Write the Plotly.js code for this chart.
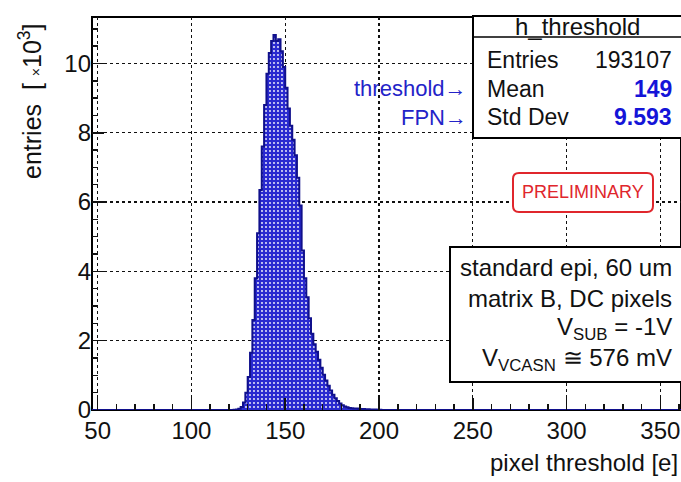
<!DOCTYPE html>
<html>
<head>
<meta charset="utf-8">
<script src="https://cdn.plot.ly/plotly-3.0.1.min.js"></script>
<style>html,body{margin:0;padding:0;background:#fff;overflow:hidden}</style>
</head>
<body>
<div id="chart" style="width:681px;height:482px"></div>
<script>
// ---- data ----
// histogram h_threshold, bin width 1.25 e, counts in units of 10^3 entries
const binLow = 120;
const binWidth = 1.25;
const counts = [
  0.0, 0.0, 0.005, 0.015, 0.035, 0.09, 0.22, 0.5, 0.95, 1.65,
  2.6, 3.8, 5.1, 6.35, 7.6, 8.8, 9.7, 10.3, 10.65, 10.82,
  10.65, 10.7, 10.35, 9.9, 9.3, 8.7, 8.2, 7.8, 7.35, 6.7,
  5.9, 4.6, 3.8, 3.25, 2.65, 2.2, 1.9, 1.68, 1.45, 1.22,
  1.02, 0.85, 0.7, 0.56, 0.44, 0.34, 0.26, 0.19, 0.14, 0.1,
  0.08, 0.06, 0.05, 0.045, 0.04, 0.035, 0.03, 0.028, 0.025, 0.02,
  0.018, 0.015, 0.012, 0.01, 0.005, 0.003
];
const xTickVals = [50, 100, 150, 200, 250, 300, 350];
const yTickVals = [0, 2, 4, 6, 8, 10];
const statsTitle = "h_threshold";
const statsLabels = ["Entries", "Mean", "Std Dev"];
const statsValues = ["193107", "149", "9.593"];
const arrowLabels = ["threshold→", "FPN→"];
const infoLines = ["standard epi, 60 um", "matrix B, DC pixels",
                   "V<sub>SUB</sub> = -1V", "V<sub>VCASN</sub> ≅ 576 mV"];

// ---- geometry ----
const XMIN = 47, XMAX = 361, YMAX = 11.34;
const L = 92, T = 17, PW = 589, PH = 393;
const px = x => (x - L) / PW;
const py = y => (T + PH - y) / PH;

// step outline of the histogram
const sx = [XMIN], sy = [0];
for (let i = 0; i < counts.length; i++) { sx.push(binLow + i * binWidth); sy.push(counts[i]); }
sx.push(binLow + counts.length * binWidth); sy.push(0);
sx.push(XMAX); sy.push(0);

const font = "Liberation Sans, Arial, Helvetica, sans-serif";
const blue = "#2323c8";

const trace = {
  type: "scatter", mode: "lines", x: sx, y: sy,
  line: {shape: "hv", color: "#10108c", width: 2},
  fill: "tozeroy",
  fillcolor: "#2a2ad0",
  fillpattern: {shape: ".", bgcolor: "#2a2ad0", fgcolor: "#ffffff", size: 4, solidity: 0.16},
  hoverinfo: "skip", showlegend: false
};

function ann(text, x, y, xa, size, opts) {
  return Object.assign({text: text, x: px(x), y: py(y), xref: "paper", yref: "paper",
    xanchor: xa, yanchor: "middle", showarrow: false,
    font: {family: font, size: size, color: "#111"}}, opts || {});
}

const annotations = [];
annotations.push(ann(statsTitle, 577, 26, "center", 24));
const rowY = [60, 89, 117];
for (let i = 0; i < 3; i++) {
  annotations.push(ann(statsLabels[i], 485, rowY[i], "left", 23));
  annotations.push(ann(i === 0 ? statsValues[i] : "<b>" + statsValues[i] + "</b>", 674, rowY[i], "right", 23,
    {font: {family: font, size: 23, color: i === 0 ? "#111" : "#1414d8"}}));
}
annotations.push(ann(arrowLabels[0], 469, rowY[1], "right", 22, {font: {family: font, size: 22, color: blue}}));
annotations.push(ann(arrowLabels[1], 469, rowY[2], "right", 22, {font: {family: font, size: 22, color: blue}}));
annotations.push(ann("PRELIMINARY", 583, 192, "center", 18, {font: {family: font, size: 18, color: "#e0262c"}}));
const infoY = [267, 298, 328, 359];
for (let i = 0; i < 4; i++) annotations.push(ann(infoLines[i], 674, infoY[i], "right", 24));
annotations.push(ann("pixel threshold [e]", 680, 462, "right", 24));
annotations.push(ann("entries  [ <span style='font-size:14px'>×</span>10<sup>3</sup>]", 30, 101, "center", 25,
  {textangle: -90}));

// rounded rectangle path for PRELIMINARY
function roundRect(x0, y0, x1, y1, r) {
  const X = v => px(v).toFixed(5), Y = v => py(v).toFixed(5);
  return "M" + X(x0 + r) + "," + Y(y0) + " L" + X(x1 - r) + "," + Y(y0) +
    " Q" + X(x1) + "," + Y(y0) + " " + X(x1) + "," + Y(y0 + r) +
    " L" + X(x1) + "," + Y(y1 - r) +
    " Q" + X(x1) + "," + Y(y1) + " " + X(x1 - r) + "," + Y(y1) +
    " L" + X(x0 + r) + "," + Y(y1) +
    " Q" + X(x0) + "," + Y(y1) + " " + X(x0) + "," + Y(y1 - r) +
    " L" + X(x0) + "," + Y(y0 + r) +
    " Q" + X(x0) + "," + Y(y0) + " " + X(x0 + r) + "," + Y(y0) + " Z";
}

const shapes = [
  {type: "rect", xref: "paper", yref: "paper", x0: 0, x1: 1, y0: 0, y1: 1,
   line: {color: "#000", width: 2}, layer: "below"},
  {type: "rect", xref: "paper", yref: "paper", x0: px(473), x1: px(682), y0: py(138), y1: py(16),
   fillcolor: "#fff", line: {color: "#000", width: 2}, layer: "above"},
  {type: "line", xref: "paper", yref: "paper", x0: px(473), x1: px(682), y0: py(37), y1: py(37),
   line: {color: "#000", width: 1.5}, layer: "above"},
  {type: "path", xref: "paper", yref: "paper", path: roundRect(513, 173, 653, 212, 6),
   fillcolor: "#fff", line: {color: "#e0262c", width: 2}, layer: "above"},
  {type: "rect", xref: "paper", yref: "paper", x0: px(450), x1: px(690), y0: py(382), y1: py(247),
   fillcolor: "#fff", line: {color: "#000", width: 2}, layer: "above"}
];

const layout = {
  width: 681, height: 482,
  margin: {l: L, r: 681 - L - PW, t: T, b: 482 - T - PH, pad: 0},
  paper_bgcolor: "#fff", plot_bgcolor: "#fff",
  font: {family: font, size: 24, color: "#111"},
  xaxis: {
    range: [XMIN, XMAX], tickvals: xTickVals, ticks: "inside", ticklen: 12, tickwidth: 1.5,
    tickcolor: "#111", showgrid: true, gridcolor: "#111", griddash: "dot", gridwidth: 1.2,
    zeroline: false, showline: false, tickfont: {family: font, size: 24, color: "#111"},
    minor: {dtick: 10, ticks: "inside", ticklen: 6, tickcolor: "#111", tickwidth: 1.5, showgrid: false},
    ticklabelstandoff: 4
  },
  yaxis: {
    range: [0, YMAX], tickvals: yTickVals, ticks: "inside", ticklen: 12, tickwidth: 1.5,
    tickcolor: "#111", showgrid: true, gridcolor: "#111", griddash: "dot", gridwidth: 1.2,
    zeroline: false, showline: false, tickfont: {family: font, size: 24, color: "#111"},
    minor: {dtick: 0.5, ticks: "inside", ticklen: 6, tickcolor: "#111", tickwidth: 1.5, showgrid: false}
  },
  shapes: shapes,
  annotations: annotations
};

Plotly.newPlot("chart", [trace], layout, {staticPlot: true, displayModeBar: false});
</script>
</body>
</html>
